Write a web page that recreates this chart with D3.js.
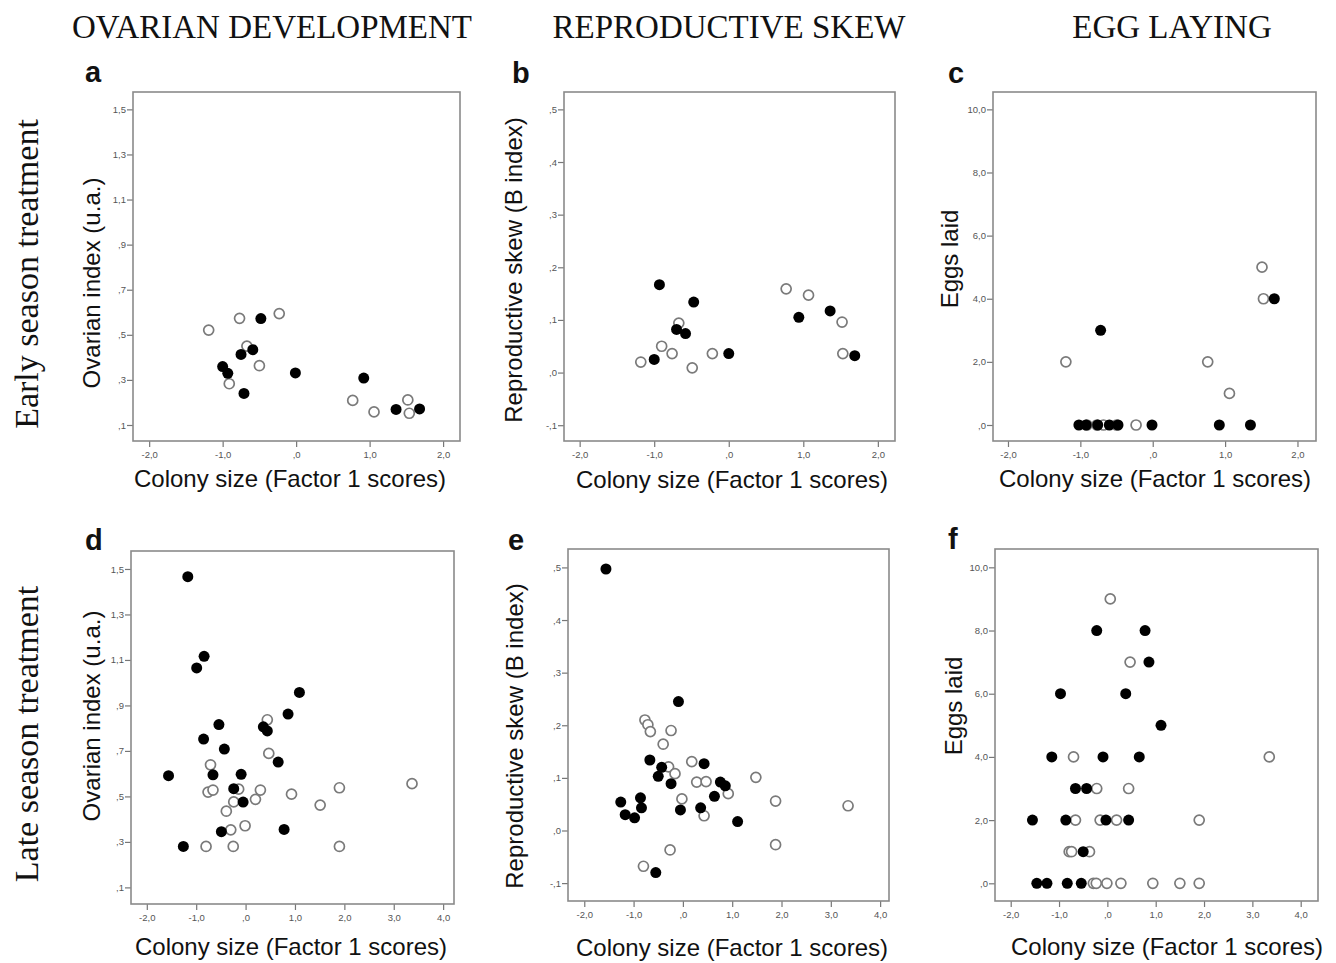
<!DOCTYPE html>
<html lang="en">
<head>
  <meta charset="UTF-8" />
  <title>Colony size vs ovarian development, skew and egg laying</title>
  <script src="https://d3js.org/d3.v7.min.js"></script>
  <style>
    body, html {
      margin: 0;
      padding: 0;
      background: #fff;
    }
    svg { display: block; }
    .tick text { font-family: "Liberation Sans", Arial, sans-serif; font-size: 9.5px; fill: #555; }
    .tick line { stroke: #777; stroke-width: 1.2; }
  </style>
</head>
<body>
  <svg id="chart" width="1336" height="963"></svg>
  <script>
    // Column and row titles
    const columnTitles = ['OVARIAN DEVELOPMENT', 'REPRODUCTIVE SKEW', 'EGG LAYING'];
    const rowTitles = ['Early season treatment', 'Late season treatment'];
    const panelLetters = ['a', 'b', 'c', 'd', 'e', 'f'];
    const yLabels = ['Ovarian index (u.a.)', 'Reproductive skew (B index)', 'Eggs laid'];
    const xLabel = 'Colony size (Factor 1 scores)';

    // Tick values
    const xTicksEarly = [-2, -1, 0, 1, 2];
    const xTicksLate = [-2, -1, 0, 1, 2, 3, 4];
    const ovarianTicks = [0.1, 0.3, 0.5, 0.7, 0.9, 1.1, 1.3, 1.5];
    const skewTicks = [-0.1, 0, 0.1, 0.2, 0.3, 0.4, 0.5];
    const eggTicks = [0, 2, 4, 6, 8, 10];

    // Data points [colony size, value]; open = white circles, filled = black dots
    const aOpen = [[-1.19, 0.521], [-0.77, 0.573], [-0.23, 0.594], [-0.67, 0.450], [-0.50, 0.363],
      [-0.91, 0.283], [0.77, 0.209], [1.06, 0.158], [1.52, 0.211], [1.54, 0.152]];
    const aFilled = [[-0.48, 0.572], [-0.75, 0.413], [-0.59, 0.434], [-1.00, 0.359], [-0.93, 0.329],
      [-0.71, 0.240], [-0.01, 0.331], [0.92, 0.308], [1.36, 0.169], [1.68, 0.171]];

    const bOpen = [[-1.18, 0.020], [-0.90, 0.050], [-0.76, 0.036], [-0.67, 0.094], [-0.49, 0.009],
      [-0.22, 0.036], [0.77, 0.159], [1.07, 0.147], [1.52, 0.096], [1.53, 0.036]];
    const bFilled = [[-0.93, 0.167], [-1.00, 0.025], [-0.70, 0.082], [-0.58, 0.074], [-0.47, 0.134],
      [0.00, 0.036], [0.94, 0.105], [1.36, 0.117], [1.69, 0.032]];

    const cOpen = [[-1.20, 2], [-0.91, 0], [-0.77, 0], [-0.68, 0], [-0.50, 0], [-0.23, 0],
      [0.76, 2], [1.06, 1], [1.51, 5], [1.53, 4]];
    const cFilled = [[-1.02, 0], [-0.92, 0], [-0.76, 0], [-0.60, 0], [-0.48, 0], [-0.72, 3],
      [-0.01, 0], [0.92, 0], [1.35, 0], [1.68, 4]];

    const dOpen = [[0.44, 0.837], [0.47, 0.689], [-0.71, 0.639], [-0.76, 0.519], [-0.66, 0.528],
      [-0.14, 0.532], [0.30, 0.528], [0.93, 0.510], [1.90, 0.538], [3.37, 0.556], [0.20, 0.487],
      [-0.24, 0.476], [-0.39, 0.435], [1.51, 0.462], [-0.01, 0.371], [-0.30, 0.353],
      [-0.80, 0.280], [-0.25, 0.280], [1.90, 0.280]];
    const dFilled = [[-1.17, 1.466], [-0.84, 1.116], [-0.99, 1.065], [1.09, 0.957], [0.86, 0.862],
      [-0.54, 0.816], [0.36, 0.806], [0.44, 0.788], [-0.85, 0.752], [-0.43, 0.708], [0.66, 0.651],
      [-1.56, 0.591], [-0.66, 0.595], [-0.09, 0.597], [-0.24, 0.534], [-0.05, 0.475],
      [-0.49, 0.345], [0.78, 0.355], [-1.26, 0.280]];

    const eOpen = [[-0.77, 0.210], [-0.71, 0.201], [-0.66, 0.188], [-0.24, 0.190], [-0.40, 0.164],
      [0.18, 0.131], [-0.29, 0.121], [-0.16, 0.108], [0.28, 0.092], [0.47, 0.093], [1.48, 0.101],
      [0.92, 0.070], [-0.02, 0.060], [1.88, 0.056], [3.35, 0.047], [0.43, 0.028],
      [1.88, -0.027], [-0.26, -0.037], [-0.80, -0.068]];
    const eFilled = [[-1.56, 0.497], [-0.09, 0.245], [-0.67, 0.134], [0.43, 0.127], [-0.43, 0.120],
      [-0.50, 0.103], [-0.24, 0.089], [0.76, 0.092], [0.86, 0.085], [0.64, 0.065], [-1.26, 0.054],
      [-0.86, 0.062], [-0.84, 0.043], [-1.17, 0.030], [-0.98, 0.024], [-0.05, 0.039],
      [0.36, 0.043], [1.11, 0.017], [-0.55, -0.080]];

    const fOpen = [[0.06, 9], [0.47, 7], [3.35, 4], [-0.70, 4], [-0.22, 3], [0.44, 3], [-0.66, 2],
      [-0.15, 2], [0.19, 2], [1.90, 2], [-0.79, 1], [-0.74, 1], [-0.37, 1], [-0.29, 0], [-0.23, 0],
      [-0.01, 0], [0.28, 0], [0.94, 0], [1.50, 0], [1.90, 0]];
    const fFilled = [[-0.22, 8], [0.78, 8], [0.86, 7], [-0.97, 6], [0.38, 6], [1.11, 5], [-1.15, 4],
      [-0.09, 4], [0.66, 4], [-0.66, 3], [-0.43, 3], [-1.55, 2], [-0.86, 2], [-0.03, 2], [0.44, 2],
      [-0.50, 1], [-1.46, 0], [-1.25, 0], [-0.83, 0], [-0.54, 0]];

    // SPSS style numbers: comma decimal, no leading zero
    function spss(v) {
      let s = Math.abs(v).toFixed(1).replace('.', ',');
      if (Math.abs(v) < 1) s = s.replace(/^0/, '');
      return (v < -1e-9 ? '-' : '') + s;
    }

    // Panel layout (frame in pixels + axis domains)
    const panels = [
      { letter: 0, ylab: 0, open: aOpen, filled: aFilled, xt: xTicksEarly, yt: ovarianTicks,
        box: [133, 92, 460, 441], xd: [-2.22, 2.23], yd: [0.029, 1.577],
        lt: [85, 82], xl: [290, 487], yl: [100, 283] },
      { letter: 1, ylab: 1, open: bOpen, filled: bFilled, xt: xTicksEarly, yt: skewTicks,
        box: [564, 92, 895, 441], xd: [-2.21, 2.23], yd: [-0.130, 0.533],
        lt: [512, 83], xl: [732, 488], yl: [522, 270] },
      { letter: 2, ylab: 2, open: cOpen, filled: cFilled, xt: xTicksEarly, yt: eggTicks,
        box: [993, 92, 1316, 441], xd: [-2.207, 2.256], yd: [-0.507, 10.55],
        lt: [948, 83], xl: [1155, 487], yl: [958, 259] },
      { letter: 3, ylab: 0, open: dOpen, filled: dFilled, xt: xTicksLate, yt: ovarianTicks,
        box: [131, 551, 454, 904], xd: [-2.32, 4.22], yd: [0.027, 1.579],
        lt: [85, 550], xl: [291, 955], yl: [100, 716] },
      { letter: 4, ylab: 1, open: eOpen, filled: eFilled, xt: xTicksLate, yt: skewTicks,
        box: [568, 549, 889, 901], xd: [-2.33, 4.18], yd: [-0.134, 0.535],
        lt: [508, 550], xl: [732, 956], yl: [523, 736] },
      { letter: 5, ylab: 2, open: fOpen, filled: fFilled, xt: xTicksLate, yt: eggTicks,
        box: [995, 549, 1318, 901], xd: [-2.325, 4.358], yd: [-0.56, 10.58],
        lt: [948, 549], xl: [1167, 955], yl: [962, 706] }
    ];

    const svg = d3.select('#chart');
    const serif = '"Liberation Serif", "Times New Roman", serif';
    const sans = '"Liberation Sans", Arial, sans-serif';

    // Column headers
    const headerX = [272, 729, 1172];
    svg.selectAll('.colTitle')
      .data(columnTitles)
      .enter().append('text')
      .attr('class', 'colTitle')
      .attr('x', (d, i) => headerX[i])
      .attr('y', 38)
      .attr('text-anchor', 'middle')
      .attr('font-family', serif)
      .attr('font-size', 33)
      .attr('fill', '#111')
      .text(d => d);

    // Row headers (vertical)
    const rowY = [274, 734];
    svg.selectAll('.rowTitle')
      .data(rowTitles)
      .enter().append('text')
      .attr('class', 'rowTitle')
      .attr('transform', (d, i) => `translate(38,${rowY[i]}) rotate(-90)`)
      .attr('text-anchor', 'middle')
      .attr('font-family', serif)
      .attr('font-size', 34)
      .attr('fill', '#111')
      .text(d => d);

    panels.forEach(p => {
      const [x0, y0, x1, y1] = p.box;
      const x = d3.scaleLinear().domain(p.xd).range([x0, x1]);
      const y = d3.scaleLinear().domain(p.yd).range([y1, y0]);
      const g = svg.append('g');

      // axes (ticks outside the frame)
      g.append('g')
        .attr('transform', `translate(0,${y1})`)
        .call(d3.axisBottom(x).tickValues(p.xt).tickSize(6).tickSizeOuter(0).tickPadding(4).tickFormat(spss))
        .call(a => a.select('.domain').remove());
      g.append('g')
        .attr('transform', `translate(${x0},0)`)
        .call(d3.axisLeft(y).tickValues(p.yt).tickSize(6).tickSizeOuter(0).tickPadding(1).tickFormat(spss))
        .call(a => a.select('.domain').remove());

      // frame
      g.append('rect')
        .attr('x', x0).attr('y', y0)
        .attr('width', x1 - x0).attr('height', y1 - y0)
        .attr('fill', 'none')
        .attr('stroke', '#8a8a8a')
        .attr('stroke-width', 1.6);

      // points
      g.append('g').selectAll('circle')
        .data(p.open)
        .enter().append('circle')
        .attr('cx', d => x(d[0]))
        .attr('cy', d => y(d[1]))
        .attr('r', 5)
        .attr('fill', '#fff')
        .attr('stroke', '#7a7a7a')
        .attr('stroke-width', 1.7);
      g.append('g').selectAll('circle')
        .data(p.filled)
        .enter().append('circle')
        .attr('cx', d => x(d[0]))
        .attr('cy', d => y(d[1]))
        .attr('r', 5.5)
        .attr('fill', '#000');

      // panel letter
      g.append('text')
        .attr('x', p.lt[0]).attr('y', p.lt[1])
        .attr('font-family', sans)
        .attr('font-weight', 'bold')
        .attr('font-size', 29)
        .attr('fill', '#111')
        .text(panelLetters[p.letter]);

      // axis labels
      g.append('text')
        .attr('x', p.xl[0]).attr('y', p.xl[1])
        .attr('text-anchor', 'middle')
        .attr('font-family', sans)
        .attr('font-size', 24)
        .attr('fill', '#111')
        .text(xLabel);
      g.append('text')
        .attr('transform', `translate(${p.yl[0]},${p.yl[1]}) rotate(-90)`)
        .attr('text-anchor', 'middle')
        .attr('font-family', sans)
        .attr('font-size', 24)
        .attr('fill', '#111')
        .text(yLabels[p.ylab]);
    });
  </script>
</body>
</html>
